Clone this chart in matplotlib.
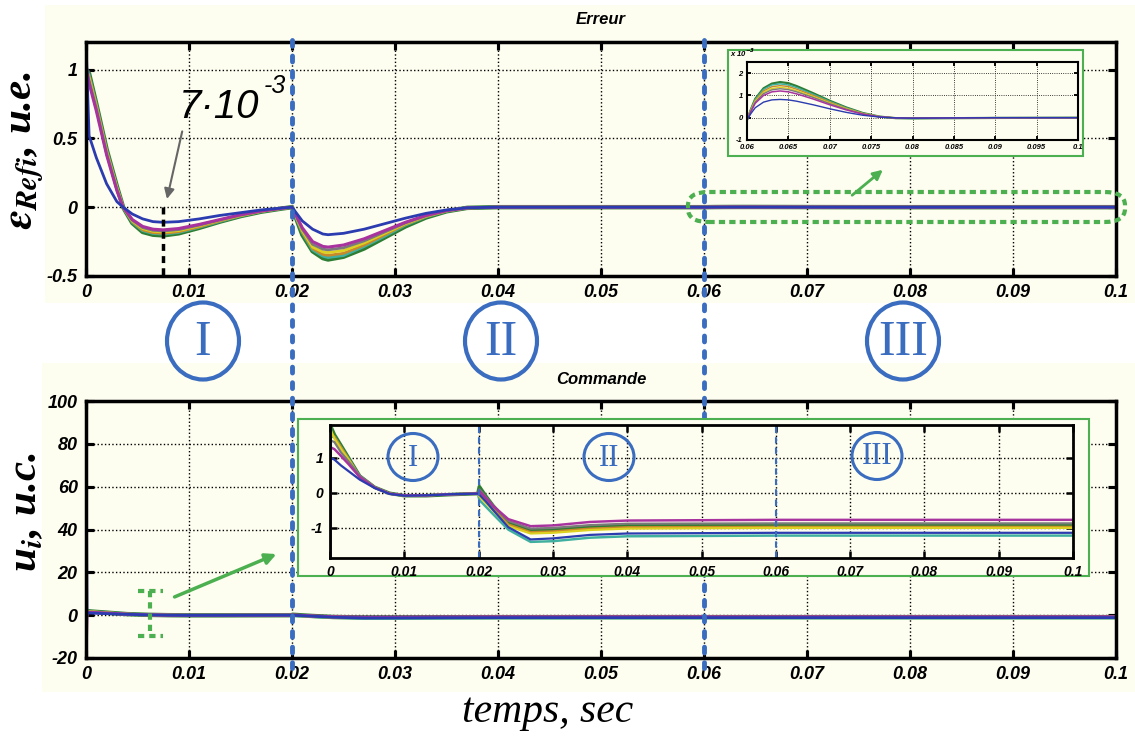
import numpy as np
import matplotlib
matplotlib.use('Agg')
import matplotlib.pyplot as plt
from matplotlib.patches import Ellipse, Rectangle, FancyBboxPatch, FancyArrowPatch
from matplotlib.lines import Line2D
from matplotlib.ticker import FuncFormatter
import matplotlib.transforms as mtransforms

plt.rcParams['font.family'] = ['Liberation Sans', 'DejaVu Sans']
plt.rcParams['font.weight'] = 'bold'
plt.rcParams['font.style'] = 'italic'

# --- data: error (top), segments I and II ---
t_err = [0, 0.0003, 0.001, 0.002, 0.003, 0.0036, 0.0045, 0.0055, 0.0065, 0.0075, 0.009, 0.011,
         0.013, 0.015, 0.017, 0.019, 0.02, 0.0205, 0.021, 0.022, 0.023, 0.0235, 0.025, 0.027,
         0.029, 0.031, 0.033, 0.035, 0.037, 0.04]
e_blue = [1.2, 0.52, 0.36, 0.17, 0.04, 0.0, -0.05, -0.085, -0.105, -0.11, -0.105, -0.085, -0.06, -0.04,
          -0.02, -0.006, 0.0, -0.05, -0.1, -0.16, -0.195, -0.2, -0.19, -0.16, -0.12, -0.08, -0.045, -0.02, -0.004, 0.0]
e_mag = [1.03, 0.9, 0.7, 0.38, 0.12, 0.0, -0.09, -0.14, -0.16, -0.165, -0.155, -0.125, -0.09, -0.055,
         -0.028, -0.008, 0.0, -0.075, -0.15, -0.25, -0.285, -0.29, -0.275, -0.23, -0.17, -0.11, -0.06, -0.025, -0.005, 0.0]
e_gray = [1.0, 0.92, 0.72, 0.39, 0.13, 0.0, -0.095, -0.148, -0.168, -0.173, -0.163, -0.13, -0.093, -0.057,
          -0.029, -0.008, 0.0, -0.08, -0.16, -0.27, -0.305, -0.31, -0.295, -0.245, -0.18, -0.115, -0.062, -0.026, -0.005, 0.0]
e_yellow = [1.0, 0.94, 0.73, 0.4, 0.14, 0.0, -0.1, -0.155, -0.175, -0.18, -0.17, -0.135, -0.095, -0.06,
            -0.03, -0.009, 0.0, -0.085, -0.17, -0.29, -0.325, -0.33, -0.315, -0.26, -0.19, -0.12, -0.065, -0.027, -0.005, 0.0]
e_orange = [1.0, 0.95, 0.74, 0.41, 0.14, 0.0, -0.105, -0.165, -0.185, -0.19, -0.178, -0.142, -0.1, -0.062,
            -0.031, -0.009, 0.0, -0.09, -0.18, -0.3, -0.343, -0.35, -0.335, -0.275, -0.2, -0.125, -0.068, -0.028, -0.005, 0.0]
e_teal = [1.0, 0.96, 0.745, 0.415, 0.145, 0.0, -0.11, -0.17, -0.19, -0.195, -0.183, -0.145, -0.103, -0.064,
          -0.032, -0.01, 0.0, -0.095, -0.185, -0.31, -0.355, -0.365, -0.35, -0.285, -0.21, -0.13, -0.07, -0.029, -0.005, 0.0]
e_green = [1.0, 0.97, 0.75, 0.42, 0.15, 0.0, -0.115, -0.18, -0.2, -0.205, -0.19, -0.15, -0.105, -0.065,
           -0.033, -0.01, 0.0, -0.1, -0.2, -0.32, -0.37, -0.38, -0.36, -0.3, -0.22, -0.14, -0.075, -0.03, -0.005, 0.0]

# --- data: error, segment III (x 1e-3, top inset) ---
t_zoom = [0.06, 0.0605, 0.061, 0.062, 0.063, 0.064, 0.065, 0.066, 0.068, 0.07, 0.072, 0.074,
          0.076, 0.078, 0.08, 0.085, 0.09, 0.1]
z_blue = [-0.1, 0.2, 0.45, 0.7, 0.8, 0.82, 0.8, 0.74, 0.58, 0.4, 0.24, 0.11, 0.03, -0.01, -0.02, -0.01, 0.0, 0.0]
z_mag = [-0.1, 0.3, 0.65, 1.0, 1.16, 1.2, 1.16, 1.07, 0.84, 0.58, 0.35, 0.16, 0.04, -0.01, -0.02, -0.01, 0.0, 0.0]
z_gray = [-0.1, 0.33, 0.7, 1.08, 1.25, 1.3, 1.26, 1.16, 0.91, 0.63, 0.38, 0.17, 0.045, -0.015, -0.025, -0.01, 0.0, 0.0]
z_yellow = [-0.1, 0.35, 0.74, 1.14, 1.31, 1.36, 1.32, 1.21, 0.95, 0.66, 0.4, 0.18, 0.045, -0.015, -0.025, -0.01, 0.0, 0.0]
z_orange = [-0.1, 0.37, 0.78, 1.2, 1.39, 1.44, 1.4, 1.28, 1.0, 0.7, 0.42, 0.19, 0.05, -0.015, -0.025, -0.01, 0.0, 0.0]
z_teal = [-0.1, 0.39, 0.82, 1.27, 1.47, 1.52, 1.47, 1.35, 1.05, 0.73, 0.44, 0.2, 0.05, -0.02, -0.03, -0.015, 0.0, 0.0]
z_green = [-0.1, 0.4, 0.85, 1.32, 1.53, 1.6, 1.55, 1.42, 1.1, 0.76, 0.46, 0.21, 0.05, -0.02, -0.03, -0.02, -0.01, 0.0]

# --- data: command (bottom) ---
t_u = [0, 0.0001, 0.0006, 0.0015, 0.0025, 0.004, 0.006, 0.008, 0.01, 0.013, 0.016, 0.0199,
       0.0201, 0.021, 0.022, 0.024, 0.027, 0.03, 0.035, 0.04, 0.06, 0.1]
u_blue = [90, 1.0, 0.95, 0.78, 0.62, 0.38, 0.14, -0.03, -0.08, -0.07, -0.04, -0.02,
          -0.05, -0.25, -0.5, -0.98, -1.33, -1.3, -1.2, -1.16, -1.14, -1.14]
u_mag = [-20, 1.3, 1.25, 1.05, 0.82, 0.45, 0.15, -0.02, -0.07, -0.07, -0.04, -0.02,
         0.05, -0.15, -0.38, -0.75, -0.95, -0.93, -0.83, -0.79, -0.77, -0.77]
u_gray = [3, 1.5, 1.45, 1.15, 0.9, 0.5, 0.17, -0.02, -0.08, -0.07, -0.04, -0.02,
          0.1, -0.12, -0.38, -0.8, -1.02, -1.0, -0.92, -0.88, -0.87, -0.87]
u_yellow = [6, 1.8, 1.55, 1.25, 0.95, 0.46, 0.15, -0.02, -0.08, -0.07, -0.04, -0.02,
            -0.1, -0.3, -0.52, -0.95, -1.16, -1.14, -1.06, -1.02, -1.0, -1.0]
u_orange = [4, 1.7, 1.6, 1.3, 0.97, 0.47, 0.16, -0.02, -0.08, -0.07, -0.04, -0.02,
            0.0, -0.2, -0.45, -0.9, -1.12, -1.1, -1.02, -0.98, -0.97, -0.97]
u_teal = [-5, 1.6, 1.6, 1.3, 0.98, 0.47, 0.16, -0.02, -0.08, -0.07, -0.04, -0.02,
          -0.2, -0.4, -0.62, -1.05, -1.4, -1.38, -1.28, -1.24, -1.22, -1.22]
u_green = [2, 1.9, 1.66, 1.35, 1.0, 0.48, 0.16, -0.01, -0.08, -0.08, -0.05, -0.02,
           0.18, -0.1, -0.38, -0.85, -1.08, -1.06, -0.98, -0.94, -0.93, -0.93]

colors = ['#2e7d32', '#3fb0a0', '#c8892a', '#dcd020', '#7a7a7a', '#a8329e', '#2b3bb0']
widths = [3.2, 2.2, 2.0, 2.0, 2.0, 2.2, 2.0]
err_series = [e_green, e_teal, e_orange, e_yellow, e_gray, e_mag, e_blue]
zoom_series = [z_green, z_teal, z_orange, z_yellow, z_gray, z_mag, z_blue]
u_series = [u_green, u_teal, u_orange, u_yellow, u_gray, u_mag, u_blue]

x_ticks = [0, 0.01, 0.02, 0.03, 0.04, 0.05, 0.06, 0.07, 0.08, 0.09, 0.1]
region_bounds = [0.02, 0.06]

W, H = 1135, 738
cream = '#fdfdf0'
blue_ann = '#3a6cbf'
green_ann = '#4caf50'


def fx(px):
    return px / W


def fy(py):
    return 1 - py / H


fmt = FuncFormatter(lambda v, p: f'{v:g}')


def style(ax, lw=2.5, size=13, tl=6, pad=6):
    ax.set_facecolor(cream)
    for s in ax.spines.values():
        s.set_linewidth(lw)
    ax.tick_params(direction='in', top=True, right=True, length=tl, width=lw * 0.9,
                   labelsize=size, pad=pad)
    ax.grid(True, color='black', linestyle=':', linewidth=1)
    ax.xaxis.set_major_formatter(fmt)
    ax.yaxis.set_major_formatter(fmt)


fig = plt.figure(figsize=(W / 100, H / 100), dpi=100, facecolor='white')

# cream panels behind the two plots
fig.add_artist(Rectangle((fx(45), fy(303)), fx(1135) - fx(45), fy(5) - fy(303),
                         transform=fig.transFigure, facecolor=cream, edgecolor='none', zorder=-10))
fig.add_artist(Rectangle((fx(42), fy(692)), fx(1135) - fx(42), fy(363) - fy(692),
                         transform=fig.transFigure, facecolor=cream, edgecolor='none', zorder=-10))

# ---------- top: Erreur ----------
ax1 = fig.add_axes([fx(86), fy(276), fx(1116) - fx(86), fy(42) - fy(276)])
style(ax1)
for e, z, c, w in zip(err_series, zoom_series, colors, widths):
    ax1.plot(np.concatenate([t_err, t_zoom]), np.concatenate([e, np.array(z) * 1e-3]), color=c, lw=w)
ax1.set_xlim(0, 0.1)
ax1.set_ylim(-0.5, 1.2)
ax1.set_xticks(x_ticks)
ax1.set_yticks([-0.5, 0, 0.5, 1])
ax1.set_title('Erreur', fontsize=12, fontweight='bold', pad=13)
ax1.plot([0.0075, 0.0075], [0, -0.5], color='black', ls=(0, (2, 1.5)), lw=2.5)
ax1.annotate('', xy=(0.0078, 0.04), xytext=(0.0094, 0.57),
             arrowprops=dict(arrowstyle='-|>', color='#666666', lw=1.5, mutation_scale=15))
fig.text(fx(179), fy(118), '7·10', fontsize=29, fontweight='normal', style='italic', ha='left', va='baseline')
fig.text(fx(264), fy(93), '-3', fontsize=18, fontweight='normal', style='italic', ha='left', va='baseline')

# green dashed box around the tail + arrow to inset
fig.add_artist(FancyBboxPatch((fx(688), fy(222)), fx(1125) - fx(688), fy(192) - fy(222),
                              boxstyle='round,pad=0,rounding_size=0.018', transform=fig.transFigure,
                              facecolor='none', edgecolor=green_ann, lw=3, ls=(0, (1.5, 1)), zorder=4))
fig.add_artist(FancyArrowPatch((fx(850), fy(197)), (fx(885), fy(168)), transform=fig.transFigure,
                               arrowstyle='-|>', mutation_scale=14, color=green_ann, lw=2, zorder=4))

# top inset
fig.add_artist(Rectangle((fx(728), fy(156)), fx(1083) - fx(728), fy(50) - fy(156),
                         transform=fig.transFigure, facecolor=cream, edgecolor=green_ann, lw=1.5, zorder=3))
ax3 = fig.add_axes([fx(747), fy(140), fx(1078) - fx(747), fy(62) - fy(140)])
ax3.set_zorder(5)
style(ax3, lw=1.5, size=5.5, tl=3, pad=3)
for z, c, w in zip(zoom_series, colors, widths):
    ax3.plot(t_zoom, z, color=c, lw=w * 0.5)
ax3.set_xlim(0.06, 0.1)
ax3.set_ylim(-1, 2.5)
ax3.set_xticks([0.06, 0.065, 0.07, 0.075, 0.08, 0.085, 0.09, 0.095, 0.1])
ax3.set_yticks([-1, 0, 1, 2])
ax3.grid(True, color='black', linestyle=':', linewidth=0.6)
ax3.text(-0.05, 1.04, r'x 10$^{-3}$', transform=ax3.transAxes, fontsize=5.5, ha='left', va='bottom')

# ---------- bottom: Commande ----------
ax2 = fig.add_axes([fx(86), fy(658), fx(1116) - fx(86), fy(401) - fy(658)])
style(ax2)
for u, c, w in zip(u_series, colors, widths):
    ax2.plot(t_u, u, color=c, lw=w)
ax2.set_xlim(0, 0.1)
ax2.set_ylim(-20, 100)
ax2.set_xticks(x_ticks)
ax2.set_yticks([-20, 0, 20, 40, 60, 80, 100])
ax2.set_title('Commande', fontsize=12, fontweight='bold', pad=12)

# green dashed I-beam marker + arrow
ib = dict(color=green_ann, lw=3, ls=(0, (1.5, 1.2)), clip_on=False)
ax2.plot([0.005, 0.0075], [11.3, 11.3], **ib)
ax2.plot([0.005, 0.0075], [-9.7, -9.7], **ib)
ax2.plot([0.0062, 0.0062], [11.3, -9.7], **ib)
fig.add_artist(FancyArrowPatch((fx(172), fy(598)), (fx(279), fy(553)), transform=fig.transFigure,
                               arrowstyle='-|>', mutation_scale=16, color=green_ann, lw=2.5, zorder=4))

# bottom inset
fig.add_artist(Rectangle((fx(298), fy(576)), fx(1089) - fx(298), fy(419) - fy(576),
                         transform=fig.transFigure, facecolor=cream, edgecolor=green_ann, lw=1.5, zorder=3))
ax4 = fig.add_axes([fx(330), fy(558), fx(1073) - fx(330), fy(425) - fy(558)])
ax4.set_zorder(5)
style(ax4, lw=2, size=10, tl=5, pad=5)
for u, c, w in zip(u_series, colors, widths):
    ax4.plot(t_u, u, color=c, lw=w * 0.8)
ax4.set_xlim(0, 0.1)
ax4.set_ylim(-1.86, 1.94)
ax4.set_xticks(x_ticks)
ax4.set_yticks([-1, 0, 1])
for xb in region_bounds:
    ax4.axvline(xb, color=blue_ann, ls=(0, (3, 2)), lw=1.5)

# blue dashed region boundaries crossing both plots
blend = mtransforms.blended_transform_factory(ax1.transData, fig.transFigure)
for xb in region_bounds:
    fig.add_artist(Line2D([xb, xb], [fy(40), fy(668)], transform=blend, color=blue_ann, lw=3.5,
                          dashes=(1.2, 2.0), dash_capstyle='round', zorder=2))

# roman numerals in circles
roman = ['I', 'II', 'III']
big_pos = [(203, 341), (501, 341), (903, 341)]
small_pos = [(413, 457), (609, 457), (877, 456)]
for r, (px, py) in zip(roman, big_pos):
    fig.add_artist(Ellipse((fx(px), fy(py)), 72 / W, 77 / H, transform=fig.transFigure,
                           facecolor='none', edgecolor=blue_ann, lw=3, zorder=6))
    fig.text(fx(px), fy(py + 2), r, fontsize=36, family='Liberation Serif', style='normal',
             fontweight='normal', color=blue_ann, ha='center', va='center', zorder=7)
for r, (px, py) in zip(roman, small_pos):
    fig.add_artist(Ellipse((fx(px), fy(py)), 50 / W, 47 / H, transform=fig.transFigure,
                           facecolor='none', edgecolor=blue_ann, lw=2.2, zorder=6))
    fig.text(fx(px), fy(py + 1), r, fontsize=22, family='Liberation Serif', style='normal',
             fontweight='normal', color=blue_ann, ha='center', va='center', zorder=7)

# axis labels
fig.text(fx(26), fy(150), r'$\varepsilon_{Refi}$, u.e.', rotation=90, fontsize=31,
         family='Liberation Serif', style='italic', fontweight='bold', math_fontfamily='stix',
         ha='center', va='center')
fig.text(fx(26), fy(512), r'u$_{i}$, u.c.', rotation=90, fontsize=31,
         family='Liberation Serif', style='italic', fontweight='bold', math_fontfamily='stix',
         ha='center', va='center')
fig.text(fx(548), fy(712), 'temps, sec', fontsize=30, family='Liberation Serif', style='italic',
         fontweight='normal', ha='center', va='center')

fig.savefig('out.png', dpi=100, facecolor='white')
